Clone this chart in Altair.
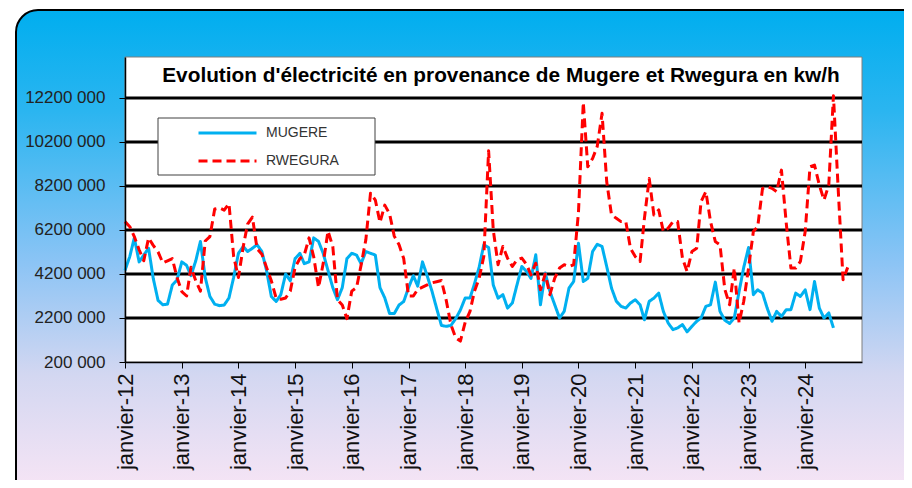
import altair as alt
import pandas as pd

TITLE = "Evolution d'électricité en provenance de Mugere et Rwegura en kw/h"
SERIES = ["MUGERE", "RWEGURA"]
COLORS = ["#00B0F0", "#FF0000"]
YEAR_TICKS = list(range(2012, 2025))
Y_TICKS = [200000, 2200000, 4200000, 6200000, 8200000, 10200000, 12200000]
GRID_VALUES = Y_TICKS[1:]

# monthly values, millions of kWh, starting January 2012
MUGERE = [
    4.36, 5.0, 5.84, 4.75, 5.06, 5.37, 4.0, 3.0, 2.8, 2.83, 3.7, 3.92,
    4.75, 4.59, 4.12, 4.8, 5.68, 4.04, 3.18, 2.83, 2.76, 2.79, 3.11, 4.04,
    5.14, 5.45, 5.22, 5.37, 5.53, 5.22, 4.36, 3.18, 2.95, 3.26, 4.2, 3.89,
    4.9, 5.14, 4.67, 4.75, 5.84, 5.68, 5.14, 4.36, 3.58, 3.03, 3.58, 4.9,
    5.14, 5.06, 4.67, 5.22, 5.14, 5.06, 3.58, 3.11, 2.4, 2.4, 2.79, 2.95,
    3.58, 4.12, 3.65, 4.75, 4.12, 3.42, 2.64, 1.86, 1.82, 1.86, 2.17, 2.56,
    3.11, 3.11, 3.73, 4.51, 5.53, 5.4, 3.7, 3.1, 3.26, 2.65, 2.88, 3.71,
    4.54, 4.31, 4.0, 5.07, 2.8, 4.24, 3.41, 2.8, 2.2, 2.5, 3.56, 3.86,
    5.6, 3.86, 4.0, 5.22, 5.55, 5.45, 4.54, 3.56, 2.96, 2.73, 2.65, 2.88,
    3.03, 2.8, 2.12, 2.96, 3.1, 3.33, 2.5, 1.97, 1.67, 1.75, 1.9, 1.57,
    1.82, 2.05, 2.2, 2.73, 2.8, 3.83, 2.5, 2.1, 1.95, 2.2, 3.4, 4.5,
    5.4, 3.26, 3.48, 3.33, 2.65, 2.05, 2.5, 2.27, 2.58, 2.58, 3.33, 3.18,
    3.48, 2.58, 3.86, 2.65, 2.2, 2.43, 1.75,
]
RWEGURA = [
    6.58, 6.35, 5.9, 5.3, 4.8, 5.84, 5.5, 5.2, 4.7, 4.8, 4.9, 4.04,
    3.4, 3.2, 4.51, 3.89, 3.42, 5.7, 5.9, 7.15, 7.2, 7.1, 7.4, 5.0,
    4.04, 5.45, 6.47, 6.78, 5.35, 5.1, 4.5, 3.89, 3.1, 3.05, 3.11, 3.42,
    4.5, 4.9, 5.06, 5.84, 4.98, 3.58, 4.67, 6.15, 5.45, 3.03, 2.79, 2.17,
    3.42, 3.58, 4.59, 5.76, 7.87, 7.56, 6.54, 7.33, 6.93, 5.92, 5.53, 4.9,
    3.2, 3.2, 3.5, 3.6, 3.7, 3.8, 3.85, 3.9, 3.0, 1.9, 1.3, 1.15,
    2.0, 2.5, 3.4, 4.0, 5.0, 9.8, 6.2, 4.62, 5.45, 4.92, 4.54, 4.84,
    4.92, 4.62, 4.16, 4.69, 3.48, 4.2, 3.26, 4.01, 4.47, 4.62, 4.54, 4.62,
    7.0, 12.0, 9.07, 9.45, 10.0, 11.5, 8.39, 6.88, 6.73, 6.58, 6.58, 5.37,
    4.99, 4.77, 6.73, 8.54, 6.88, 7.11, 6.13, 6.28, 6.58, 6.58, 4.92, 4.31,
    5.22, 5.37, 7.49, 7.94, 6.58, 5.67, 5.52, 3.5, 2.8, 4.47, 1.97, 2.96,
    4.47, 6.13, 6.35, 8.09, 8.17, 8.09, 7.94, 8.92, 6.5, 4.47, 4.47, 4.77,
    6.13, 9.07, 9.15, 8.24, 7.56, 8.24, 12.3, 8.0, 3.94, 4.5,
]


def month_dates(n):
    return [f"{2012 + i // 12}-{i % 12 + 1:02d}-01" for i in range(n)]


df = pd.DataFrame({
    "date": month_dates(len(MUGERE)) + month_dates(len(RWEGURA)),
    "kwh": [v * 1_000_000 for v in MUGERE] + [v * 1_000_000 for v in RWEGURA],
    "serie": [SERIES[0]] * len(MUGERE) + [SERIES[1]] * len(RWEGURA),
})
grid_df = pd.DataFrame({"kwh": GRID_VALUES})
one = pd.DataFrame({"a": [0]})

W, H = 737, 305
FONT = "Liberation Sans"

x_scale = alt.Scale(
    type="utc",
    domain=[alt.DateTime(year=2012, month=1, date=1, utc=True),
            alt.DateTime(year=2025, month=1, date=1, utc=True)],
)
y_scale = alt.Scale(domain=[200000, 14060000], nice=False, zero=False)

y_axis = alt.Axis(
    values=Y_TICKS,
    labelExpr="format(datum.value / 1000, 'd') + ' 000'",
    labelFont=FONT, labelFontSize=17, labelColor="#222222",
    tickColor="black", tickSize=6, domainColor="black", domainWidth=1.5,
    grid=False, title=None, zindex=1, labelPadding=14,
)
x_axis = alt.Axis(
    values=[alt.DateTime(year=y, month=1, date=1, utc=True) for y in YEAR_TICKS],
    labelExpr="'janvier-' + utcFormat(datum.value, '%y')",
    labelAngle=270, labelFont=FONT, labelFontSize=22, labelColor="#111111",
    tickColor="black", tickSize=6, domainColor="black", domainWidth=1.5,
    grid=False, title=None, zindex=1, labelPadding=5, labelOverlap=False,
)

gradient = alt.Gradient(
    gradient="linear", x1=0, x2=0, y1=0, y2=1,
    stops=[
        alt.GradientStop(offset=0.0, color="#00AEEF"),
        alt.GradientStop(offset=0.2, color="#2BB5F0"),
        alt.GradientStop(offset=0.5, color="#8CC4F5"),
        alt.GradientStop(offset=0.72, color="#D3D7F1"),
        alt.GradientStop(offset=1.0, color="#FFE8F6"),
    ],
)

# decorative chart-area frame and plot area box
frame = alt.Chart(one).mark_rect(
    fill=gradient, stroke="black", strokeWidth=2, cornerRadius=22
).encode(x=alt.value(-109), x2=alt.value(820), y=alt.value(-47), y2=alt.value(460))

plot_box = alt.Chart(one).mark_rect(
    fill="white", stroke="#7F7F7F", strokeWidth=1
).encode(x=alt.value(0), x2=alt.value(W), y=alt.value(0), y2=alt.value(H))

# legend box (the legend entries themselves are Vega's own legend)
legend_box = alt.Chart(one).mark_rect(
    fill="white", stroke="#404040", strokeWidth=1
).encode(x=alt.value(33), x2=alt.value(250), y=alt.value(61), y2=alt.value(118))

grid = alt.Chart(grid_df).mark_rule(color="black", strokeWidth=3).encode(
    y=alt.Y("kwh:Q", scale=y_scale, axis=y_axis)
)

title = alt.Chart(one).mark_text(
    text=TITLE, font=FONT, fontSize=20.8, fontWeight="bold", color="black",
    align="center", baseline="middle",
).encode(x=alt.value(376), y=alt.value(19))

lines = alt.Chart(df).mark_line(strokeWidth=3, strokeCap="butt", strokeJoin="round").encode(
    x=alt.X("date:T", scale=x_scale, axis=x_axis),
    y=alt.Y("kwh:Q", scale=y_scale, axis=y_axis),
    color=alt.Color("serie:N", scale=alt.Scale(domain=SERIES, range=COLORS),
                    legend=alt.Legend(title=None)),
    strokeDash=alt.StrokeDash("serie:N", scale=alt.Scale(domain=SERIES, range=[[1, 0], [9, 5]]),
                              legend=alt.Legend(title=None)),
    order="date:T",
)

chart = alt.layer(frame, plot_box, grid, legend_box, lines, title).properties(
    width=W, height=H,
    padding={"left": 117, "top": 49, "right": 42, "bottom": 118},
    autosize=alt.AutoSizeParams(type="none"),
).configure_view(strokeWidth=0, fill=None).configure(background="white").configure_legend(
    orient="none", legendX=33, legendY=61, padding=7,
    symbolType="stroke", symbolSize=3364, symbolStrokeWidth=3, symbolOffset=32,
    labelFont=FONT, labelFontSize=14, labelColor="#333333", labelOffset=8,
    rowPadding=12, clipHeight=16,
)

chart.save("out.html", embed_options={"renderer": "svg", "actions": False})
